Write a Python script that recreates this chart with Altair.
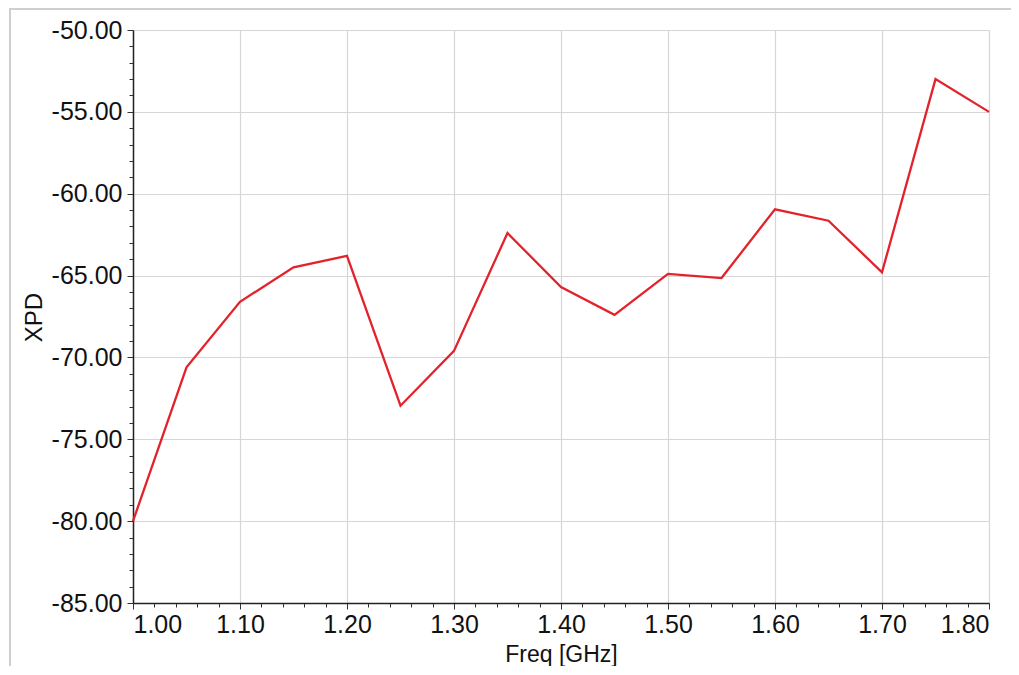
import altair as alt
import pandas as pd

freq = [1.00, 1.05, 1.10, 1.15, 1.20, 1.25, 1.30, 1.35, 1.40, 1.45, 1.50,
        1.55, 1.60, 1.65, 1.70, 1.75, 1.80]
xpd = [-80.0, -70.6, -66.6, -64.5, -63.8, -72.95, -69.6, -62.4, -65.7, -67.4,
       -64.9, -65.15, -60.95, -61.65, -64.8, -53.0, -55.0]

x_ticks = [round(1.0 + 0.02 * i, 2) for i in range(41)]
y_ticks = list(range(-85, -49))

df = pd.DataFrame({"freq": freq, "xpd": xpd})

x_major = "abs(datum.value*10 - round(datum.value*10)) < 1e-6"
y_major = "abs(datum.value/5 - round(datum.value/5)) < 1e-6"

x_axis = alt.Axis(
    values=x_ticks,
    labelExpr=f"{x_major} ? format(datum.value, '.2f') : ''",
    labelOverlap=False,
    labelFont="Liberation Sans", labelFontSize=25, labelColor="#111",
    labelPadding=3,
    tickSize={"condition": {"test": x_major, "value": 6}, "value": 4},
    tickColor="#333",
    gridOpacity={"condition": {"test": x_major, "value": 1}, "value": 0},
    gridColor="#d6d6d6", gridWidth=1.2,
    domainColor="#222", domainWidth=1.5,
    title="Freq [GHz]", titleFont="Liberation Sans", titleFontSize=23,
    titleFontWeight="normal", titleColor="#111",
    titleX=428, titleY=58, titleBaseline="alphabetic",
)
y_axis = alt.Axis(
    values=y_ticks,
    labelExpr=f"{y_major} ? (datum.value < 0 ? '-' : '') + format(abs(datum.value), '.2f') : ''",
    labelOverlap=False,
    labelFont="Liberation Sans", labelFontSize=25, labelColor="#111",
    labelPadding=5,
    tickSize={"condition": {"test": y_major, "value": 6}, "value": 4},
    tickColor="#333",
    gridOpacity={"condition": {"test": y_major, "value": 1}, "value": 0},
    gridColor="#d6d6d6", gridWidth=1.2,
    domainColor="#222", domainWidth=1.5,
    title="XPD", titleFont="Liberation Sans", titleFontSize=24,
    titleFontWeight="normal", titleColor="#111",
    titleX=-92, titleY=287, titleAngle=270, titleBaseline="alphabetic",
    titleAlign="center",
)

line = alt.Chart(df).mark_line(color="#e3232c", strokeWidth=2.3).encode(
    x=alt.X("freq:Q", scale=alt.Scale(domain=[1.0, 1.8], nice=False, zero=False), axis=x_axis),
    y=alt.Y("xpd:Q", scale=alt.Scale(domain=[-85, -50], nice=False, zero=False), axis=y_axis),
)

frame_left = alt.Chart(df).mark_rule(color="#cfcfcf", strokeWidth=2).encode(
    x=alt.value(-123), y=alt.value(-22), y2=alt.value(660)
)
frame_top = alt.Chart(df).mark_rule(color="#cfcfcf", strokeWidth=2).encode(
    x=alt.value(-123), x2=alt.value(900), y=alt.value(-21)
)

chart = alt.layer(frame_left, frame_top, line).properties(
    width=856, height=573,
    padding={"left": 125, "top": 22, "right": 22, "bottom": 63},
    autosize="none",
).configure_view(stroke="#777", strokeWidth=1.5).configure(background="white")

chart.save("out.html", embed_options={"renderer": "svg", "actions": False})
